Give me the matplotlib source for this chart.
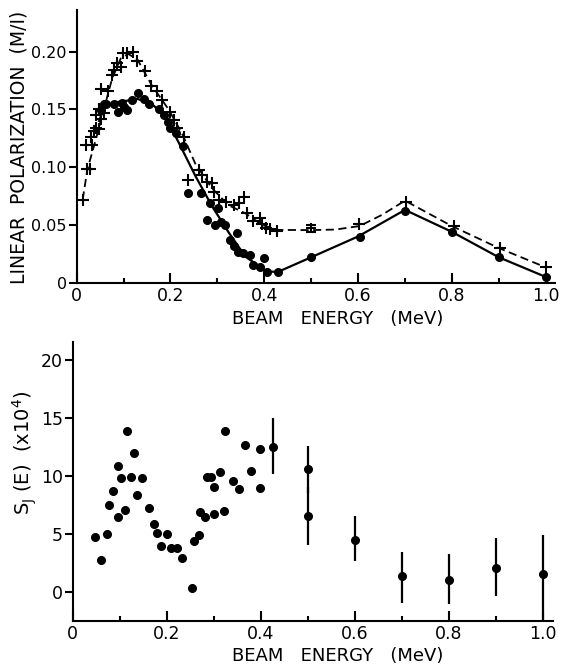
import matplotlib
matplotlib.use("Agg")
import matplotlib.pyplot as plt
from matplotlib.ticker import MultipleLocator

plt.rcParams['font.family'] = ['DejaVu Sans']

# ---- top panel: linear polarization ----
cross_x = [0.013, 0.023, 0.028, 0.021, 0.033, 0.030, 0.038, 0.041, 0.048, 0.041, 0.051, 0.047,
           0.059, 0.052, 0.066, 0.075, 0.080, 0.087, 0.094, 0.098, 0.108, 0.121, 0.128, 0.146,
           0.158, 0.172, 0.183, 0.199, 0.208, 0.215, 0.229, 0.238, 0.261, 0.268, 0.277, 0.288,
           0.293, 0.304, 0.318, 0.335, 0.346, 0.357, 0.364, 0.376, 0.390, 0.396, 0.403, 0.413,
           0.428, 0.603, 0.702, 0.804, 0.903, 1.000]
cross_y = [0.072, 0.098, 0.098, 0.119, 0.119, 0.1265, 0.131, 0.134, 0.133, 0.145, 0.1416, 0.150,
           0.147, 0.1676, 0.1655, 0.180, 0.1843, 0.190, 0.187, 0.1988, 0.1988, 0.1993, 0.1915, 0.1834,
           0.170, 0.1655, 0.1583, 0.148, 0.141, 0.1338, 0.1265, 0.089, 0.0977, 0.0933, 0.0875, 0.0866,
           0.0789, 0.0717, 0.0702, 0.0673, 0.0693, 0.074, 0.060, 0.0537, 0.0558, 0.0509, 0.0471, 0.0465,
           0.045, 0.0509, 0.0702, 0.049, 0.0298, 0.0133]
pm_x = [0.500]
pm_y = [0.047]
pm_err = [0.003]

dot_x = [0.052, 0.058, 0.063, 0.079, 0.088, 0.097, 0.102, 0.108, 0.118, 0.131, 0.143, 0.154,
         0.175, 0.186, 0.195, 0.200, 0.211, 0.226, 0.237, 0.266, 0.279, 0.284, 0.295, 0.302,
         0.307, 0.316, 0.327, 0.336, 0.341, 0.345, 0.355, 0.369, 0.376, 0.390, 0.400, 0.405,
         0.430, 0.500, 0.604, 0.700, 0.800, 0.900, 1.000]
dot_y = [0.1497, 0.155, 0.155, 0.1545, 0.148, 0.1553, 0.152, 0.1497, 0.1577, 0.164, 0.1589, 0.1548,
         0.150, 0.1453, 0.1395, 0.1338, 0.1295, 0.118, 0.0775, 0.0775, 0.0543, 0.0688, 0.050, 0.0645,
         0.0529, 0.050, 0.037, 0.0318, 0.0428, 0.0269, 0.0255, 0.024, 0.0153, 0.0139, 0.021, 0.0095,
         0.0095, 0.022, 0.0393, 0.0624, 0.0442, 0.022, 0.0052]

solid_x = [0.048, 0.06, 0.08, 0.10, 0.13, 0.16, 0.19, 0.218, 0.254, 0.289, 0.325, 0.36, 0.395,
           0.405, 0.43, 0.50, 0.60, 0.70, 0.80, 0.90, 1.00]
solid_y = [0.140, 0.153, 0.156, 0.157, 0.159, 0.155, 0.143, 0.121, 0.0918, 0.066, 0.043, 0.0225,
           0.0127, 0.0095, 0.0095, 0.022, 0.040, 0.063, 0.044, 0.022, 0.005]

dash_x = [0.013, 0.023, 0.041, 0.058, 0.076, 0.094, 0.11, 0.13, 0.16, 0.196, 0.225, 0.253, 0.288,
          0.324, 0.36, 0.395, 0.43, 0.50, 0.552, 0.603, 0.651, 0.70, 0.80, 0.90, 1.00]
dash_y = [0.072, 0.098, 0.124, 0.150, 0.177, 0.194, 0.198, 0.193, 0.171, 0.150, 0.129, 0.103, 0.082,
          0.067, 0.060, 0.050, 0.0457, 0.0455, 0.046, 0.049, 0.0587, 0.071, 0.049, 0.030, 0.0133]

top_yticks = [0, 0.05, 0.10, 0.15, 0.20]
top_yticklabels = ["0", "0.05", "0.10", "0.15", "0.20"]
xticks = [0, 0.2, 0.4, 0.6, 0.8, 1.0]
xticklabels = ["0", "0.2", "0.4", "0.6", "0.8", "1.0"]

# ---- bottom panel: S_J(E) ----
sj_x = [0.048, 0.060, 0.074, 0.078, 0.085, 0.096, 0.097, 0.104, 0.111, 0.116, 0.124, 0.131,
        0.137, 0.148, 0.163, 0.173, 0.179, 0.188, 0.201, 0.209, 0.221, 0.232, 0.253, 0.258,
        0.268, 0.271, 0.281, 0.285, 0.294, 0.300, 0.300, 0.313, 0.322, 0.325, 0.340, 0.353,
        0.366, 0.380, 0.398, 0.398]
sj_y = [4.74, 2.78, 5.03, 7.53, 8.76, 6.46, 10.89, 9.88, 7.1, 13.93, 9.97, 11.98,
        8.39, 9.88, 7.3, 5.89, 5.14, 3.99, 5.03, 3.79, 3.79, 2.93, 0.34, 4.42,
        4.91, 6.95, 6.52, 9.97, 9.9, 9.1, 6.72, 10.4, 7.0, 13.93, 9.6, 8.88,
        12.7, 10.45, 12.35, 8.96]
err_x = [0.425, 0.50, 0.50, 0.60, 0.70, 0.80, 0.90, 1.00]
err_y = [12.5, 10.6, 6.6, 4.5, 1.4, 1.1, 2.1, 1.6]
err_lo = [2.3, 2.0, 2.5, 1.8, 2.35, 2.1, 2.4, 4.1]
err_hi = [2.5, 2.0, 2.5, 2.1, 2.1, 2.2, 2.6, 3.3]
bot_yticks = [0, 5, 10, 15, 20]
bot_yticklabels = ["0", "5", "10", "15", "20"]

W, H = 563, 667
fig = plt.figure(figsize=(W / 100, H / 100), dpi=100)

ax1 = fig.add_axes([76.6 / W, (H - 282.7) / H, 478.5 / W, 272.7 / H])
ax2 = fig.add_axes([72.5 / W, (H - 620.7) / H, 480.0 / W, 279.0 / H])

LW = 1.5
TICKFS = 12.5
XLABFS = 13

ax1.plot(dash_x, dash_y, color='black', lw=1.3, ls=(0, (4.5, 2.5)))
ax1.plot(solid_x, solid_y, color='black', lw=1.6)
ax1.plot(cross_x, cross_y, ls='none', marker='+', ms=8, mew=1.5, color='black')
ax1.errorbar(pm_x, pm_y, yerr=pm_err, fmt='+', ms=7, mew=1.5, color='black',
             elinewidth=0, capsize=3.5, capthick=1.5)
ax1.plot(dot_x, dot_y, ls='none', marker='o', ms=5.5, color='black')

ax1.set_xlim(0.004, 1.02)
ax1.set_ylim(0, 0.236)
ax1.set_yticks(top_yticks)
ax1.set_yticklabels(top_yticklabels)
ax1.set_ylabel("LINEAR  POLARIZATION  (M/I)", fontsize=13.5)
ax1.yaxis.set_label_coords(-0.1, 0.496)
ax1.set_xlabel("BEAM   ENERGY   (MeV)", fontsize=XLABFS)
ax1.xaxis.set_label_coords(0.546, -0.1)

ax2.errorbar(err_x, err_y, yerr=[err_lo, err_hi], fmt='o', ms=5.5, color='black',
             elinewidth=1.6, capsize=0)
ax2.plot(sj_x, sj_y, ls='none', marker='o', ms=5.5, color='black')
ax2.set_xlim(0.0, 1.02)
ax2.set_ylim(-2.45, 21.6)
ax2.set_yticks(bot_yticks)
ax2.set_yticklabels(bot_yticklabels)
ax2.set_ylabel(r"S$_\mathrm{J}$ (E)  (x10$^4$)", fontsize=14)
ax2.yaxis.set_label_coords(-0.07, 0.601)
ax2.set_xlabel("BEAM   ENERGY   (MeV)", fontsize=XLABFS)
ax2.xaxis.set_label_coords(0.553, -0.095)

for ax in (ax1, ax2):
    for s in ('top', 'right'):
        ax.spines[s].set_visible(False)
    for s in ('left', 'bottom'):
        ax.spines[s].set_linewidth(LW)
    ax.set_xticks(xticks)
    ax.set_xticklabels(xticklabels)
    ax.xaxis.set_minor_locator(MultipleLocator(0.1))
    ax.tick_params(axis='x', which='major', direction='in', length=7, width=LW,
                   labelsize=TICKFS, pad=3)
    ax.tick_params(axis='x', which='minor', direction='in', length=3.5, width=LW)
    ax.tick_params(axis='y', which='major', direction='out', length=6, width=LW,
                   labelsize=TICKFS, pad=1)
ax1.tick_params(axis='y', labelsize=11.5)

fig.savefig("out.png", dpi=100)
